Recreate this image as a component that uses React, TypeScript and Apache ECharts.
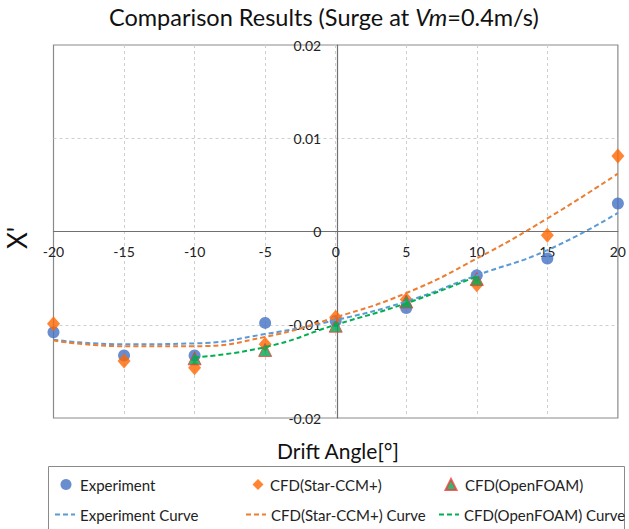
import React, { useEffect, useRef } from "react";
import * as echarts from "echarts";

// Drift angles (degrees)
const angles = [-20, -15, -10, -5, 0, 5, 10, 15, 20];
const foamAngles = [-10, -5, 0, 5, 10];

// Measured / computed X'
const experiment = [-0.0108, -0.0133, -0.0133, -0.0098, -0.0096, -0.0082, -0.0047, -0.0029, 0.003];
const starCcm = [-0.0099, -0.0139, -0.0146, -0.0121, -0.0092, -0.0073, -0.0057, -0.0004, 0.0081];
const openFoam = [-0.0136, -0.0127, -0.0101, -0.0075, -0.0051];

// Fitted curves
const experimentCurve = [-0.0116, -0.0121, -0.012, -0.011, -0.0095, -0.0075, -0.0047, -0.002, 0.002];
const starCurve = [-0.0117, -0.0123, -0.0123, -0.0113, -0.0092, -0.0066, -0.0029, 0.0014, 0.0062];
const foamCurve = [-0.0135, -0.0124, -0.01, -0.0077, -0.0048];

const FONT = "Lato, 'Noto Sans', sans-serif";

const pairs = (xs: number[], ys: number[]) => xs.map((x, i) => [x, ys[i]]);

export default function App() {
  const ref = useRef<HTMLDivElement>(null);
  useEffect(() => {
    if (!ref.current) return;
    const chart = echarts.init(ref.current, null, { renderer: "svg" });
    const dash = { width: 2, type: [5, 3] as any };
    const symLegend = (left: number, pad: number, name: string) => ({
      orient: "horizontal",
      top: 477,
      left,
      itemWidth: 11,
      itemHeight: 11,
      padding: 0,
      textStyle: { fontFamily: FONT, fontSize: 15, color: "#222", padding: [0, 0, 0, pad] },
      data: [name],
    });
    const lineLegend = (left: number, name: string) => ({
      orient: "horizontal",
      top: 507,
      left,
      itemWidth: 20,
      itemHeight: 11,
      padding: 0,
      textStyle: { fontFamily: FONT, fontSize: 15, color: "#222" },
      data: [{ name, itemStyle: { opacity: 0 } }],
    });
    const grid = { show: true, showMinLine: false, showMaxLine: false, lineStyle: { color: "#cfcfcf", type: [3, 3], width: 1 } };
    chart.setOption({
      animation: false,
      backgroundColor: "#fff",
      title: {
        text: "{a|Comparison Results (Surge at }{b|Vm}{a|=0.4m/s)}",
        left: 104,
        top: 0,
        textStyle: {
          fontWeight: "normal",
          rich: {
            a: { fontFamily: FONT, fontSize: 23.5, color: "#111", fontWeight: "normal" },
            b: { fontFamily: FONT, fontSize: 23.5, color: "#111", fontStyle: "italic", fontWeight: "normal" },
          },
        },
      },
      grid: {
        left: 53.5,
        right: 8,
        top: 45,
        bottom: 111,
        show: true,
        borderColor: "#8a8a8a",
        borderWidth: 1.2,
        backgroundColor: "transparent",
      },
      legend: [
        symLegend(60.5, 3.5, "Experiment"),
        symLegend(252.5, 1.5, "CFD(Star-CCM+)"),
        symLegend(444.5, 3.5, "CFD(OpenFOAM)"),
        lineLegend(54, "Experiment Curve"),
        lineLegend(245, "CFD(Star-CCM+) Curve"),
        lineLegend(438, "CFD(OpenFOAM) Curve"),
      ],
      graphic: [
        {
          type: "rect",
          shape: { x: 48.5, y: 466.5, width: 576, height: 80 },
          style: { fill: "none", stroke: "#8a8a8a", lineWidth: 1 },
          silent: true,
        },
        {
          type: "text",
          x: 338,
          y: 450,
          style: {
            text: "Drift Angle[°]",
            fontFamily: FONT,
            fontSize: 21,
            fill: "#111",
            align: "center",
            verticalAlign: "middle",
          },
        },
        {
          type: "text",
          x: 17,
          y: 238,
          rotation: Math.PI / 2,
          style: {
            text: "X'",
            fontFamily: FONT,
            fontSize: 26,
            fill: "#111",
            align: "center",
            verticalAlign: "middle",
          },
        },
      ],
      xAxis: {
        type: "value",
        min: -20,
        max: 20,
        interval: 5,
        position: "bottom",
        offset: -186.5,
        axisLine: { onZero: false, lineStyle: { color: "#707070", width: 1.2 } },
        axisTick: { show: false },
        axisLabel: {
          margin: 13,
          fontFamily: FONT,
          fontSize: 14,
          color: "#222",
        },
        splitLine: grid,
      },
      yAxis: {
        type: "value",
        min: -0.02,
        max: 0.02,
        interval: 0.01,
        position: "left",
        offset: -283.75,
        axisLine: { show: true, onZero: false, lineStyle: { color: "#707070", width: 1.2 } },
        axisTick: { show: false },
        axisLabel: {
          margin: 16,
          fontFamily: FONT,
          fontSize: 14,
          color: "#222",
          formatter: (v: number) => (Math.abs(v) < 1e-9 ? "0" : v.toFixed(2)),
        },
        splitLine: grid,
      },
      series: [
        {
          name: "Experiment",
          type: "scatter",
          symbol: "circle",
          symbolSize: 12,
          itemStyle: { color: "#4472C4" },
          data: pairs(angles, experiment),
          z: 3,
        },
        {
          name: "CFD(Star-CCM+)",
          type: "scatter",
          symbol: "diamond",
          symbolSize: [13, 15],
          itemStyle: { color: "#FF6600" },
          data: pairs(angles, starCcm),
          z: 3,
        },
        {
          name: "CFD(OpenFOAM)",
          type: "scatter",
          symbol: "triangle",
          symbolSize: [13, 13],
          itemStyle: { color: "#00A650", borderColor: "#F03C3C", borderWidth: 1 },
          data: pairs(foamAngles, openFoam),
          z: 3,
        },
        {
          name: "Experiment Curve",
          type: "line",
          smooth: true,
          showSymbol: false,
          lineStyle: { ...dash, color: "#5B9BD5" },
          itemStyle: { color: "#5B9BD5" },
          data: pairs(angles, experimentCurve),
          z: 4,
        },
        {
          name: "CFD(Star-CCM+) Curve",
          type: "line",
          smooth: true,
          showSymbol: false,
          lineStyle: { ...dash, color: "#ED7D31" },
          itemStyle: { color: "#ED7D31" },
          data: pairs(angles, starCurve),
          z: 4,
        },
        {
          name: "CFD(OpenFOAM) Curve",
          type: "line",
          smooth: true,
          showSymbol: false,
          lineStyle: { ...dash, color: "#00B050" },
          itemStyle: { color: "#00B050" },
          data: pairs(foamAngles, foamCurve),
          z: 4,
        },
      ],
    });
    return () => chart.dispose();
  }, []);
  return (
    <div
      ref={ref}
      style={{ position: "fixed", left: 0, top: 0, width: 629, height: 529, background: "#fff" }}
    />
  );
}
